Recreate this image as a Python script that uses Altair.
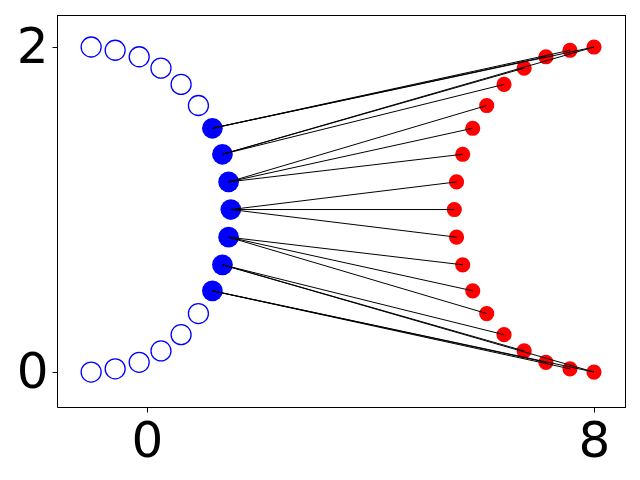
import altair as alt
import pandas as pd

# Source (blue) points, top to bottom
blue_x = [-1.0, -0.57, -0.14, 0.25, 0.61, 0.92, 1.17, 1.35, 1.46, 1.5,
          1.46, 1.35, 1.17, 0.92, 0.61, 0.25, -0.14, -0.57, -1.0]
pts_y = [2.0, 1.98, 1.94, 1.87, 1.77, 1.64, 1.5, 1.34, 1.17, 1.0,
         0.83, 0.66, 0.5, 0.36, 0.23, 0.13, 0.06, 0.02, 0.0]
blue_filled = [False] * 6 + [True] * 7 + [False] * 6

# Target (red) points
red_x = [8.0, 7.57, 7.14, 6.75, 6.39, 6.08, 5.83, 5.65, 5.54, 5.5,
         5.54, 5.65, 5.83, 6.08, 6.39, 6.75, 7.14, 7.57, 8.0]

# Connections (blue index -> red index)
link_src = [6, 6, 6, 7, 7, 7, 8, 8, 8, 9, 9, 9, 10, 10, 10, 11, 11, 11, 12, 12, 12]
link_tgt = [0, 1, 2, 0, 3, 4, 5, 6, 7, 8, 9, 10, 11, 12, 13, 14, 15, 18, 16, 17, 18]

blue_df = pd.DataFrame({"x": blue_x, "y": pts_y, "filled": blue_filled})
red_df = pd.DataFrame({"x": red_x, "y": pts_y})
link_df = pd.DataFrame({
    "x": [blue_x[i] for i in link_src],
    "y": [pts_y[i] for i in link_src],
    "x2": [red_x[j] for j in link_tgt],
    "y2": [pts_y[j] for j in link_tgt],
})

xs = alt.Scale(domain=[-1.611, 8.555], nice=False, zero=False)
ys = alt.Scale(domain=[-0.215, 2.197], nice=False, zero=False)

axis_common = dict(
    title=None, grid=False, domainColor="black", tickColor="black",
    labelColor="black", labelFont="DejaVu Sans", labelFontSize=50,
    tickSize=5, labelPadding=4, domainWidth=1, tickWidth=1,
)
x_enc = alt.X("x:Q", scale=xs, axis=alt.Axis(values=[0, 8], **axis_common))
y_enc = alt.Y("y:Q", scale=ys, axis=alt.Axis(values=[0, 2], **axis_common))

hollow = alt.Chart(blue_df).transform_filter("!datum.filled").mark_point(
    shape="circle", filled=False, color="#0000ff", size=400, strokeWidth=1.3,
    opacity=1
).encode(x=x_enc, y=y_enc)

filled = alt.Chart(blue_df).transform_filter("datum.filled").mark_circle(
    color="#0000ff", size=430, opacity=1
).encode(x=x_enc, y=y_enc)

red = alt.Chart(red_df).mark_circle(color="#ff0000", size=230, opacity=1).encode(
    x=x_enc, y=y_enc
)

links = alt.Chart(link_df).mark_rule(color="black", strokeWidth=1).encode(
    x=x_enc, y=y_enc, x2="x2:Q", y2="y2:Q"
)

# Frame: top and right edges (crisp 1px)
top_edge = alt.Chart(blue_df).mark_rule(color="black", strokeWidth=1).encode(
    x=alt.value(0), x2=alt.value(569), y=alt.value(0.5)
)
right_edge = alt.Chart(blue_df).mark_rule(color="black", strokeWidth=1).encode(
    x=alt.value(568.5), y=alt.value(0), y2=alt.value(392.5)
)

chart = alt.layer(hollow, filled, red, links, top_edge, right_edge).properties(
    width=568, height=392,
    autosize=alt.AutoSizeParams(type="none"),
    padding={"left": 49, "top": 7, "right": 7, "bottom": 65},
).configure_view(strokeWidth=0).configure(background="white")

chart.save("out.html", embed_options={"renderer": "svg", "actions": False})
